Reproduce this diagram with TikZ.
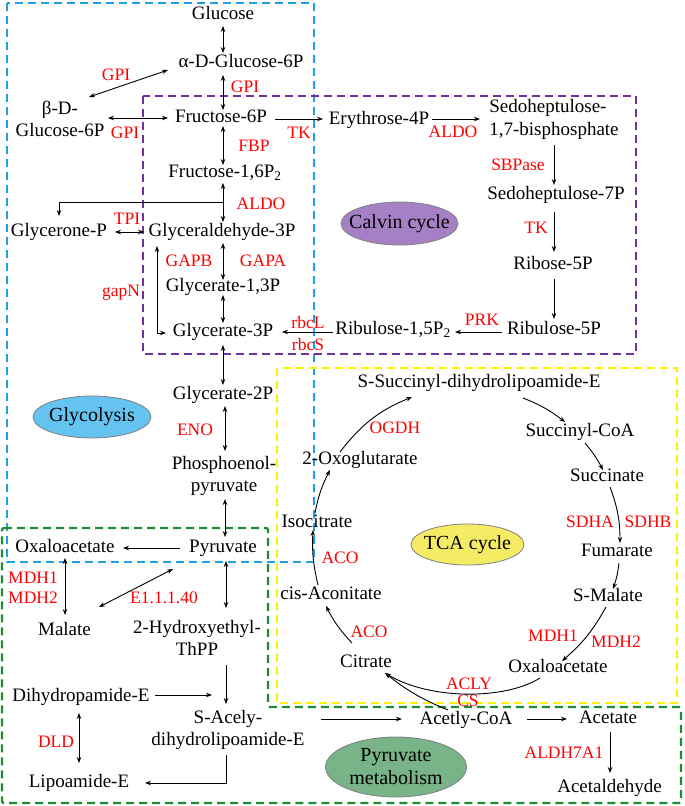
\documentclass[tikz,border=0pt]{standalone}
\usepackage{fontspec}
\setmainfont{Liberation Serif}
\usetikzlibrary{arrows.meta,calc,shapes.geometric}
\definecolor{boxblue}{RGB}{30,160,230}
\definecolor{boxpurple}{RGB}{112,48,160}
\definecolor{boxyellow}{RGB}{255,240,0}
\definecolor{boxgreen}{RGB}{30,140,50}
\definecolor{fillcalvin}{RGB}{166,128,196}
\definecolor{fillglyco}{RGB}{100,195,240}
\definecolor{filltca}{RGB}{245,235,100}
\definecolor{fillpyr}{RGB}{120,180,135}
\begin{document}
\begin{tikzpicture}[x=1pt,y=-1pt,
  met/.style={font=\fontsize{19}{22.5}\selectfont, inner sep=1pt},
  one/.style={met, text height=13pt, text depth=4pt},
  two/.style={met, align=center},
  enz/.style={text=red, font=\fontsize{17.5}{19}\selectfont, inner sep=0pt},
  arr/.style={-{Stealth[length=6pt,width=4.5pt]}, line width=0.9pt},
  darr/.style={{Stealth[length=6pt,width=4.5pt]}-{Stealth[length=6pt,width=4.5pt]}, line width=0.9pt},
  region/.style={dash pattern=on 8pt off 5pt, line width=2.3pt},
  oval/.style={ellipse, draw=gray, line width=0.8pt, inner sep=0pt},
  ovaltext/.style={font=\fontsize{20}{23}\selectfont, align=center, inner sep=0pt}
]
\useasboundingbox (0,0) rectangle (685,806);

% regions
\draw[region, boxblue] (7,3) rectangle (314,562);
\draw[region, boxpurple] (143,96) rectangle (636,354);
\draw[region, boxyellow] (277,368) rectangle (677,703);
\draw[region, boxgreen, rounded corners=2pt] (2,528) -- (268,528) -- (268,707) -- (681,707) -- (681,803) -- (2,803) -- cycle;

% ovals
\node[oval, fill=fillcalvin, minimum width=117pt, minimum height=43pt] (calvin) at (399.5,223.5) {};
\node[ovaltext] (calvinlbl) at (calvin) {Calvin cycle};
\node[oval, fill=fillglyco, minimum width=118pt, minimum height=42pt] (glyco) at (92,417) {};
\node[ovaltext] (glycolbl) at (glyco) {Glycolysis};
\node[oval, fill=filltca, minimum width=113pt, minimum height=41pt] (tca) at (467.5,544.5) {};
\node[ovaltext] (tcalbl) at (tca) {TCA cycle};
\node[oval, fill=fillpyr, minimum width=141pt, minimum height=60pt] (pyrmet) at (396,767) {};
\node[ovaltext] (pyrmetlbl) at (pyrmet) {Pyruvate\\metabolism};

% metabolites
\node[one] (glc) at (223,15) {Glucose};
\node[one] (a6p) at (241,63) {α-D-Glucose-6P};
\node[two] (b6p) at (60,119) {β-D-\\Glucose-6P};
\node[one] (f6p) at (221,118) {Fructose-6P};
\node[one] (e4p) at (379,120) {Erythrose-4P};
\node[met, align=left] (sbp) at (554,119.5) {Sedoheptulose-\\1,7-bisphosphate};
\node[one] (s7p) at (556,195) {Sedoheptulose-7P};
\node[one] (r5p) at (553,265) {Ribose-5P};
\node[one] (ru5p) at (554,330) {Ribulose-5P};
\node[one] (rubp) at (393,330) {Ribulose-1,5P\textsubscript{2}};
\node[one] (fbp) at (225,173) {Fructose-1,6P\textsubscript{2}};
\node[one] (gap) at (222,232) {Glyceraldehyde-3P};
\node[one] (dhap) at (59,232) {Glycerone-P};
\node[one] (g13p) at (223,287) {Glycerate-1,3P};
\node[one] (g3p) at (223,332) {Glycerate-3P};
\node[one] (g2p) at (223,395) {Glycerate-2P};
\node[two] (pep) at (224,476) {Phosphoenol-\\pyruvate};
\node[one] (pyr) at (223,548) {Pyruvate};
\node[one] (oaa1) at (65,548) {Oxaloacetate};
\node[one] (mal) at (64.5,631) {Malate};
\node[two] (hete) at (197,638) {2-Hydroxyethyl-\\ThPP};
\node[one] (dhl) at (81,697) {Dihydropamide-E};
\node[two] (sacl) at (228,730) {S-Acely-\\dihydrolipoamide-E};
\node[one] (lip) at (79,783) {Lipoamide-E};
\node[one] (acoa) at (466,720) {Acetly-CoA};
\node[one] (ace) at (608,719) {Acetate};
\node[one] (ald) at (609.5,788) {Acetaldehyde};
\node[one] (cit) at (366,663) {Citrate};
\node[one] (oaa2) at (558,668) {Oxaloacetate};
\node[one] (cis) at (331,595) {cis-Aconitate};
\node[one] (iso) at (317,523) {Isocitrate};
\node[one] (ogl) at (360,460) {2-Oxoglutarate};
\node[one] (ssd) at (479,383) {S-Succinyl-dihydrolipoamide-E};
\node[one] (scoa) at (580,432) {Succinyl-CoA};
\node[one] (suc) at (607,477) {Succinate};
\node[one] (fum) at (617,552) {Fumarate};
\node[one] (smal) at (608,597) {S-Malate};

% enzymes
\node[enz] (gpi1) at (116,75) {GPI};
\node[enz] (gpi2) at (245,87) {GPI};
\node[enz] (gpi3) at (125,133) {GPI};
\node[enz] (tk1) at (299,133) {TK};
\node[enz] (fbpE) at (254,146) {FBP};
\node[enz] (aldo1) at (453,132) {ALDO};
\node[enz] (sbpase) at (518,165) {SBPase};
\node[enz] (tk2) at (536,228) {TK};
\node[enz] (prk) at (482,320) {PRK};
\node[enz] (rbcl) at (308,323) {rbcL};
\node[enz] (rbcs) at (308,345) {rbcS};
\node[enz] (aldo2) at (261,204) {ALDO};
\node[enz] (tpi) at (127,219) {TPI};
\node[enz] (gapb) at (189,261) {GAPB};
\node[enz] (gapa) at (263,261) {GAPA};
\node[enz] (gapn) at (121,293) {gapN};
\node[enz] (eno) at (195,430) {ENO};
\node[enz] (mdh1a) at (33,578) {MDH1};
\node[enz] (mdh2a) at (33,598) {MDH2};
\node[enz] (e11140) at (164,598) {E1.1.1.40};
\node[enz] (dld) at (56,742) {DLD};
\node[enz] (aldh) at (564,753) {ALDH7A1};
\node[enz] (acly) at (469,684) {ACLY};
\node[enz] (cs) at (468,701) {CS};
\node[enz] (ogdh) at (395,428) {OGDH};
\node[enz] (sdha) at (590,522) {SDHA};
\node[enz] (sdhb) at (648,522) {SDHB};
\node[enz] (aco1) at (340,558) {ACO};
\node[enz] (aco2) at (369,632) {ACO};
\node[enz] (mdh1b) at (553,636) {MDH1};
\node[enz] (mdh2b) at (616,642) {MDH2};

% glycolysis / Calvin connectors
\draw[darr] ($(glc)+(0,11)$) -- ($(a6p)+(-18,-10)$);
\draw[darr] ($(a6p)+(-73,7)$) -- ($(b6p)+(29,-22)$);
\draw[darr] ($(a6p)+(-18,12)$) -- ($(f6p)+(2,-8)$);
\draw[darr] ($(b6p)+(48,-1)$) -- ($(f6p)+(-53,0)$);
\draw[arr] ($(f6p)+(54,1)$) -- ($(e4p)+(-56,-1)$);
\draw[arr] ($(e4p)+(53,-1)$) -- ($(sbp)+(-74,-0.5)$);
\draw[arr] ($(sbp)+(0,25.5)$) -- ($(s7p)+(-2,-10)$);
\draw[arr] ($(s7p)+(-2,17)$) -- ($(r5p)+(1,-13)$);
\draw[arr] ($(r5p)+(1,14)$) -- ($(ru5p)+(0,-11)$);
\draw[arr] ($(ru5p)+(-52,2)$) -- ($(rubp)+(62,2)$);
\draw[arr] ($(rubp)+(-60,2)$) -- ($(g3p)+(59,0)$);
\draw[darr] ($(f6p)+(2,8)$) -- ($(fbp)+(-2,-8)$);
\draw[darr] ($(fbp)+(-2,10)$) -- ($(gap)+(1,-10)$);
\draw[arr] ($(fbp)+(-2,29)$) -| ($(dhap)+(0,-16)$);
\draw[darr] ($(dhap)+(56,0)$) -- ($(gap)+(-78,0)$);
\draw[darr] ($(gap)+(1,11)$) -- ($(g13p)+(0,-7)$);
\draw[darr] ($(g13p)+(0,8)$) -- ($(g3p)+(0,-9)$);
\draw[darr] ($(gap)+(-65,14)$) |- ($(g3p)+(-57,1)$);
\draw[darr] ($(g3p)+(0,13)$) -- ($(g2p)+(0,-10)$);
\draw[darr] ($(g2p)+(2,11)$) -- ($(pep)+(1,-25)$);
\draw[darr] ($(pep)+(1,23)$) -- ($(pyr)+(2,-11)$);

% pyruvate metabolism connectors
\draw[arr] ($(pyr)+(-43,0)$) -- ($(oaa1)+(58,0)$);
\draw[darr] ($(oaa1)+(0,10)$) -- ($(mal)+(0.5,-16)$);
\draw[darr] ($(pyr)+(-50,21)$) -- ($(mal)+(34.5,-24)$);
\draw[darr] ($(pyr)+(3,13)$) -- ($(hete)+(29,-30)$);
\draw[arr] ($(hete)+(29,27)$) -- ($(sacl)+(-2,-26)$);
\draw[arr] ($(dhl)+(74,-2)$) -- ($(sacl)+(-16,-35)$);
\draw[darr] ($(dhl)+(-2,16)$) -- ($(lip)+(0,-20)$);
\draw[arr] ($(sacl)+(-2,25)$) |- ($(lip)+(66,0)$);
\draw[arr] ($(sacl)+(93,-11)$) -- ($(acoa)+(-64,-1)$);
\draw[arr] ($(acoa)+(61,-1)$) -- ($(ace)+(-41,0)$);
\draw[arr] ($(ace)+(2,13)$) -- ($(ald)+(0.5,-15)$);

% TCA cycle connectors
\draw[arr] ($(acoa)+(-18,-10)$) to[bend left=8] ($(cit)+(19,10)$);
\draw[arr] ($(oaa2)+(-18,10)$) .. controls ($(oaa2)+(-53,32)$) and ($(cit)+(64,37)$) .. ($(cit)+(19,10)$);
\draw[arr] ($(cit)+(-14,-20)$) to[bend left=8] ($(cis)+(-5,11)$);
\draw[arr] ($(cis)+(-13,-10)$) to[bend left=8] ($(iso)+(-4,7)$);
\draw[arr] ($(iso)+(-2,-10)$) to[bend left=8] ($(ogl)+(-30,10)$);
\draw[arr] ($(ogl)+(-20,-8)$) to[bend left=15] ($(ssd)+(-67,14)$);
\draw[arr] ($(ssd)+(44,15)$) to[bend left=8] ($(scoa)+(-15,-10)$);
\draw[arr] ($(scoa)+(5,11)$) to[bend left=6] ($(suc)+(-4,-7)$);
\draw[arr] ($(suc)+(3,10)$) to[bend left=10] ($(fum)+(3,-9)$);
\draw[arr] ($(fum)+(2,11)$) to[bend left=6] ($(smal)+(5,-8)$);
\draw[arr] ($(smal)+(-2,10)$) to[bend left=10] ($(oaa2)+(4,-7)$);
\end{tikzpicture}
\end{document}
